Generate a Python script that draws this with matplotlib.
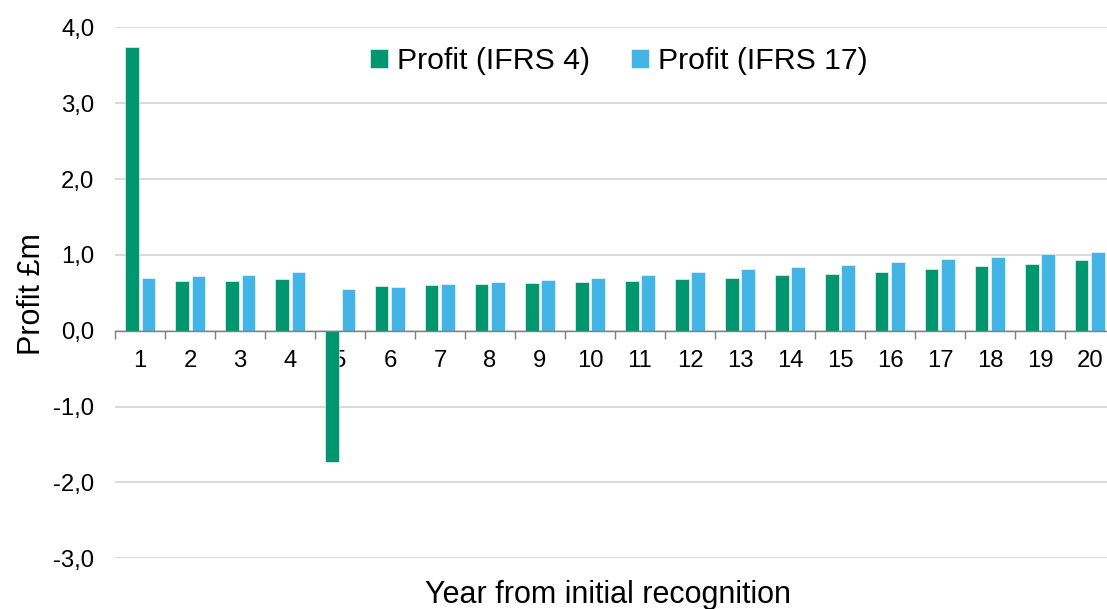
import matplotlib
matplotlib.use("Agg")
import matplotlib.pyplot as plt
from matplotlib.ticker import FuncFormatter, FixedLocator

plt.rcParams['font.family'] = ['Liberation Sans', 'DejaVu Sans']

years = list(range(1, 21))
year_labels = [str(y) for y in years]
profit_ifrs4 = [3.74, 0.65, 0.66, 0.68, -1.73, 0.59, 0.60, 0.62, 0.63, 0.64,
                0.66, 0.68, 0.70, 0.73, 0.75, 0.78, 0.81, 0.85, 0.88, 0.93]
profit_ifrs17 = [0.69, 0.72, 0.74, 0.77, 0.55, 0.58, 0.61, 0.64, 0.67, 0.70,
                 0.74, 0.77, 0.81, 0.84, 0.87, 0.90, 0.94, 0.97, 1.01, 1.04]
y_ticks = [-3, -2, -1, 0, 1, 2, 3, 4]

green = '#00966f'
blue = '#42b4e6'

fig = plt.figure(figsize=(11.07, 6.09), dpi=100)
ax = fig.add_axes([115/1107, 1 - 558.3/609, 1000/1107, (558.3 - 27.3)/609])

w = 0.27
off = 0.165
x = [float(y) for y in years]
b1 = ax.bar([v - off for v in x], profit_ifrs4, width=w, color=green,
            edgecolor='white', linewidth=0.4, zorder=3, label='Profit (IFRS 4)')
b2 = ax.bar([v + off for v in x], profit_ifrs17, width=w, color=blue,
            edgecolor='white', linewidth=0.4, zorder=3, label='Profit (IFRS 17)')

ax.set_xlim(0.5, 20.5)
ax.set_ylim(-3, 4)
ax.set_yticks(y_ticks)
ax.yaxis.set_major_formatter(FuncFormatter(lambda v, p: f"{v:.1f}".replace('.', ',')))
ax.tick_params(axis='y', length=0, pad=15, labelsize=17.2, labelcolor='#000000')
ax.grid(axis='y', color='#d9d9d9', linewidth=1.4, zorder=0)
ax.set_axisbelow(True)

for s in ['top', 'right', 'left']:
    ax.spines[s].set_visible(False)
ax.spines['bottom'].set_position(('data', 0))
ax.spines['bottom'].set_color('#7f7f7f')
ax.spines['bottom'].set_linewidth(1.0)
ax.spines['bottom'].set_zorder(4)

ax.xaxis.set_major_locator(FixedLocator([v + 0.5 for v in [0] + years]))
ax.xaxis.set_minor_locator(FixedLocator(x))
ax.xaxis.set_major_formatter(FuncFormatter(lambda v, p: ''))
ax.set_xticks(x, minor=True)
ax.set_xticklabels(year_labels, minor=True)
ax.tick_params(axis='x', which='major', direction='out', length=6, width=1.0, color='#7f7f7f')
ax.tick_params(axis='x', which='minor', length=0, pad=14, labelsize=17.2)

fig.text(32/1107, 1 - 294/609, 'Profit £m', rotation=90, ha='center', va='center', fontsize=22)
fig.text(608/1107, 1 - 603/609, 'Year from initial recognition', ha='center', va='baseline', fontsize=22)

fig.legend(handles=[b1, b2], loc='center', bbox_to_anchor=(619/1107, 1 - 61/609),
           ncol=2, frameon=False, fontsize=21.8, handlelength=0.6, handleheight=0.6,
           handletextpad=0.3, columnspacing=1.35, borderaxespad=0, borderpad=0)

fig.savefig('out.png', dpi=100)
